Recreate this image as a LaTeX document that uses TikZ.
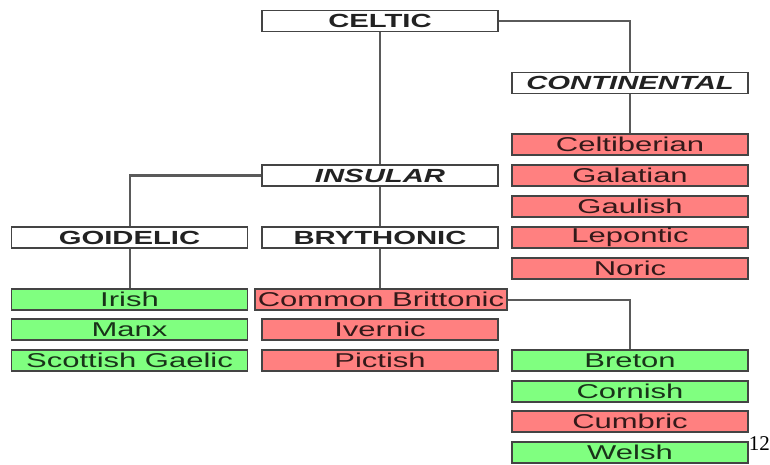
\documentclass[tikz,border=0pt]{standalone}
\usepackage{fontspec}
\setmainfont{Liberation Sans}
\usepackage{graphicx}
\usetikzlibrary{backgrounds}
\definecolor{boxc}{HTML}{444444}
\definecolor{linec}{HTML}{5A5A5A}
\definecolor{redf}{HTML}{FF8080}
\definecolor{greenf}{HTML}{80FF80}
\definecolor{txtc}{HTML}{222222}
\newcommand{\stw}[1]{\scalebox{1.54}[1]{#1}}
\newcommand{\stl}[1]{\scalebox{1.55}[1]{#1}}
\tikzset{
  box/.style={draw=boxc, line width=1.6pt, minimum width=236pt, minimum height=21pt,
    inner sep=0pt, text=black, text opacity=0.8, font=\fontsize{20}{20}\selectfont},
  head/.style={box, fill=white, text=txtc, text opacity=1, font=\fontsize{19}{19}\selectfont\bfseries},
  ihead/.style={head, font=\fontsize{19}{19}\selectfont\bfseries\itshape},
  dead/.style={box, fill=redf},
  live/.style={box, fill=greenf},
  conn/.style={draw=linec, line width=2pt}
}
\begin{document}
\begin{tikzpicture}[x=1pt,y=-1pt]
\useasboundingbox (0,0) rectangle (770,465);
% headings
\node[head]  (celtic) at (380,21)    {\stw{CELTIC}};
\node[ihead] (cont)   at (630,83)    {\stw{CONTINENTAL}};
\node[ihead] (ins)    at (380,175.5) {\stw{INSULAR}};
\node[head]  (goid)   at (129.5,237.5) {\stw{GOIDELIC}};
\node[head]  (bry)    at (380,237.5) {\stw{BRYTHONIC}};
% continental
\node[dead] (celtib) at (630,144.5) {\stl{Celtiberian}};
\node[dead] (galat)  at (630,175.5) {\stl{Galatian}};
\node[dead] (gaul)   at (630,206.5) {\stl{Gaulish}};
\node[dead] (lepon)  at (630,237.5) {\stl{Lepontic}};
\node[dead] (noric)  at (630,268.5) {\stl{Noric}};
% goidelic
\node[live] (irish)  at (129.5,299.5) {\stl{Irish}};
\node[live] (manx)   at (129.5,329.5) {\stl{Manx}};
\node[live] (scot)   at (129.5,360.5) {\stl{Scottish Gaelic}};
% brythonic
\node[dead, minimum width=252pt] (common) at (381,299.5) {\stl{Common Brittonic}};
\node[dead] (ivern)  at (380,329.5) {\stl{Ivernic}};
\node[dead] (pict)   at (380,360.5) {\stl{Pictish}};
\node[live] (breton) at (630,360.5) {\stl{Breton}};
\node[live] (corn)   at (630,391.5) {\stl{Cornish}};
\node[dead] (cumb)   at (630,421.5) {\stl{Cumbric}};
\node[live] (welsh)  at (630,452.5) {\stl{Welsh}};
% page mark
\node[anchor=east, inner sep=0pt, font=\fontspec{Liberation Serif}\fontsize{21}{21}\selectfont] (pg) at (770,444) {12};
\begin{pgfonlayer}{background}
\draw[conn] (celtic.south) -- (ins.north);
\draw[conn] (celtic.east) -| (cont.north);
\draw[conn] (cont.south) -- (celtib.north);
\draw[conn] (ins.west) -| (goid.north);
\draw[conn] (goid.south) -- (irish.north);
\draw[conn] (ins.south) -- (bry.north);
\draw[conn] (bry.south) -- (common.north -| bry.south);
\draw[conn] (common.east) -| (breton.north);
\end{pgfonlayer}
\end{tikzpicture}
\end{document}
